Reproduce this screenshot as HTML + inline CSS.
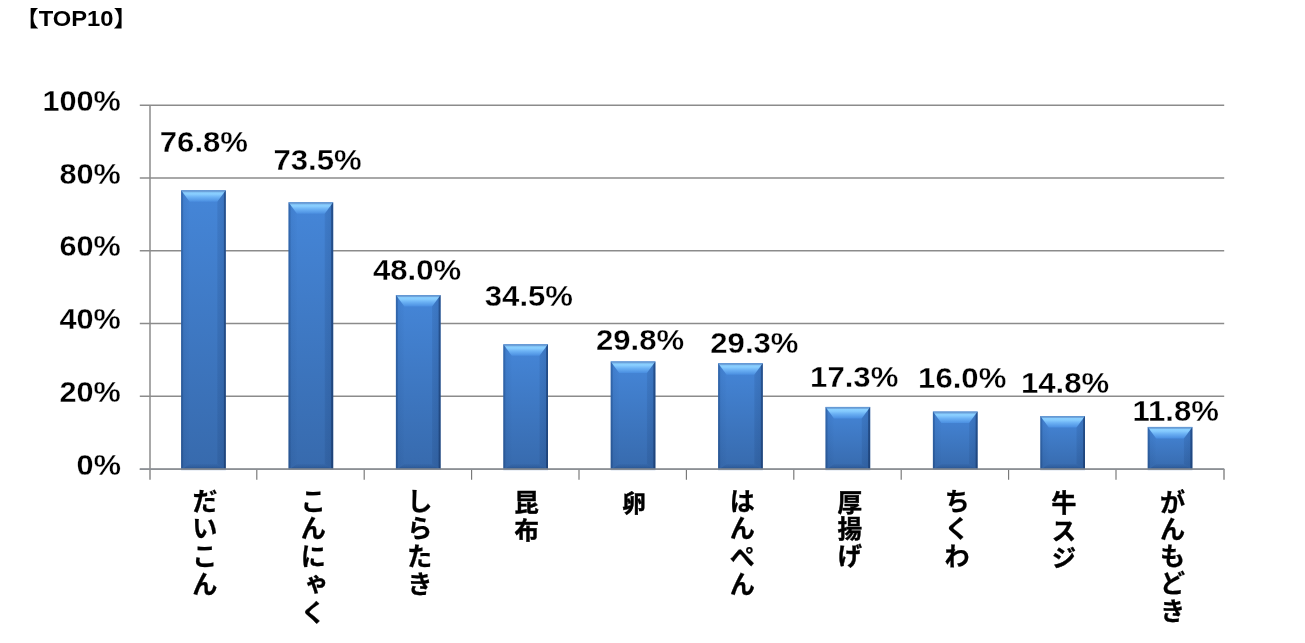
<!DOCTYPE html>
<html lang="ja">
<head>
<meta charset="utf-8">
<title>TOP10</title>
<style>
html,body{margin:0;padding:0;background:#fff;}
body{width:1305px;height:643px;position:relative;overflow:hidden;font-family:"Liberation Sans","Noto Sans CJK JP",sans-serif;}
svg{position:absolute;left:0;top:0;display:block;}
.num{font-family:"Liberation Sans","Noto Sans CJK JP",sans-serif;font-weight:bold;fill:#000;stroke:#fff;stroke-width:0.3px;}
.cat{position:absolute;top:0;writing-mode:vertical-rl;text-orientation:upright;font-family:"Liberation Sans","Noto Sans CJK JP",sans-serif;font-weight:bold;font-size:25.6px;line-height:27px;width:27px;color:#000;white-space:nowrap;letter-spacing:2.2px;-webkit-text-stroke:0.25px #000;}
</style>
</head>
<body>
<svg width="1305" height="643" viewBox="0 0 1305 643">
<defs>
<linearGradient id="bg" x1="0" y1="0" x2="0" y2="1"><stop offset="0" stop-color="#4586d8"/><stop offset="1" stop-color="#376aad"/></linearGradient>
<linearGradient id="tb" x1="0" y1="0" x2="0" y2="1"><stop offset="0" stop-color="#5f93cf"/><stop offset="0.13" stop-color="#6fa6de"/><stop offset="0.22" stop-color="#8ad0ff"/><stop offset="0.36" stop-color="#86cbfe"/><stop offset="0.6" stop-color="#6bb1f4"/><stop offset="1" stop-color="#4a8ee0"/></linearGradient>
<linearGradient id="lb" x1="0" y1="0" x2="1" y2="0"><stop offset="0" stop-color="#0a2a5a" stop-opacity="0.36"/><stop offset="0.18" stop-color="#0a2a5a" stop-opacity="0.28"/><stop offset="0.3" stop-color="#0a2a5a" stop-opacity="0.07"/><stop offset="1" stop-color="#0a2a5a" stop-opacity="0.01"/></linearGradient>
<linearGradient id="rb" x1="0" y1="0" x2="1" y2="0"><stop offset="0" stop-color="#0a2450" stop-opacity="0.10"/><stop offset="0.72" stop-color="#0a2450" stop-opacity="0.16"/><stop offset="0.8" stop-color="#0a2450" stop-opacity="0.50"/><stop offset="1" stop-color="#0a2450" stop-opacity="0.60"/></linearGradient>
<linearGradient id="bb" x1="0" y1="0" x2="0" y2="1"><stop offset="0" stop-color="#0a2450" stop-opacity="0.04"/><stop offset="0.55" stop-color="#0a2450" stop-opacity="0.18"/><stop offset="0.8" stop-color="#0a2450" stop-opacity="0.45"/><stop offset="1" stop-color="#0a2450" stop-opacity="0.65"/></linearGradient>
</defs>
<rect x="0" y="0" width="1305" height="643" fill="#ffffff"/>

<g stroke="#8b8b8b" stroke-width="1.5" fill="none">
<line x1="139.8" y1="105.15" x2="1224.2" y2="105.15"/>
<line x1="139.8" y1="177.95" x2="1224.2" y2="177.95"/>
<line x1="139.8" y1="250.75" x2="1224.2" y2="250.75"/>
<line x1="139.8" y1="323.55" x2="1224.2" y2="323.55"/>
<line x1="139.8" y1="396.35" x2="1224.2" y2="396.35"/>
<line x1="139.8" y1="469.15" x2="1224.2" y2="469.15"/>
<line x1="150.0" y1="105.2" x2="150.0" y2="479.8"/>
<line x1="1224.0" y1="469.1" x2="1224.0" y2="479.8"/>
</g>
<g stroke="#767676" stroke-width="1.15" fill="none">
<line x1="256.8" y1="469.1" x2="256.8" y2="479.8"/>
<line x1="364.2" y1="469.1" x2="364.2" y2="479.8"/>
<line x1="471.6" y1="469.1" x2="471.6" y2="479.8"/>
<line x1="579.0" y1="469.1" x2="579.0" y2="479.8"/>
<line x1="686.4" y1="469.1" x2="686.4" y2="479.8"/>
<line x1="793.8" y1="469.1" x2="793.8" y2="479.8"/>
<line x1="901.2" y1="469.1" x2="901.2" y2="479.8"/>
<line x1="1008.6" y1="469.1" x2="1008.6" y2="479.8"/>
<line x1="1116.0" y1="469.1" x2="1116.0" y2="479.8"/>
</g>
<g>
<rect x="181.1" y="190.3" width="44.7" height="279.8" fill="url(#bg)"/>
<polygon points="181.1,190.3 225.8,190.3 217.3,201.8 189.6,201.8" fill="url(#tb)"/>
<polygon points="181.1,190.3 189.6,201.8 189.6,464.0 181.1,470.0" fill="url(#lb)"/>
<polygon points="225.8,190.3 217.3,201.8 217.3,464.0 225.8,470.0" fill="url(#rb)"/>
<polygon points="181.1,470.0 189.6,464.0 217.3,464.0 225.8,470.0" fill="url(#bb)"/>
</g>
<g>
<rect x="288.5" y="202.3" width="44.7" height="267.7" fill="url(#bg)"/>
<polygon points="288.5,202.3 333.2,202.3 324.7,213.8 297.0,213.8" fill="url(#tb)"/>
<polygon points="288.5,202.3 297.0,213.8 297.0,464.0 288.5,470.0" fill="url(#lb)"/>
<polygon points="333.2,202.3 324.7,213.8 324.7,464.0 333.2,470.0" fill="url(#rb)"/>
<polygon points="288.5,470.0 297.0,464.0 324.7,464.0 333.2,470.0" fill="url(#bb)"/>
</g>
<g>
<rect x="395.9" y="295.1" width="44.7" height="174.9" fill="url(#bg)"/>
<polygon points="395.9,295.1 440.6,295.1 432.1,306.6 404.4,306.6" fill="url(#tb)"/>
<polygon points="395.9,295.1 404.4,306.6 404.4,464.0 395.9,470.0" fill="url(#lb)"/>
<polygon points="440.6,295.1 432.1,306.6 432.1,464.0 440.6,470.0" fill="url(#rb)"/>
<polygon points="395.9,470.0 404.4,464.0 432.1,464.0 440.6,470.0" fill="url(#bb)"/>
</g>
<g>
<rect x="503.3" y="344.3" width="44.7" height="125.8" fill="url(#bg)"/>
<polygon points="503.3,344.3 548.0,344.3 539.5,355.8 511.8,355.8" fill="url(#tb)"/>
<polygon points="503.3,344.3 511.8,355.8 511.8,464.0 503.3,470.0" fill="url(#lb)"/>
<polygon points="548.0,344.3 539.5,355.8 539.5,464.0 548.0,470.0" fill="url(#rb)"/>
<polygon points="503.3,470.0 511.8,464.0 539.5,464.0 548.0,470.0" fill="url(#bb)"/>
</g>
<g>
<rect x="610.7" y="361.4" width="44.7" height="108.7" fill="url(#bg)"/>
<polygon points="610.7,361.4 655.4,361.4 646.9,372.9 619.2,372.9" fill="url(#tb)"/>
<polygon points="610.7,361.4 619.2,372.9 619.2,464.0 610.7,470.0" fill="url(#lb)"/>
<polygon points="655.4,361.4 646.9,372.9 646.9,464.0 655.4,470.0" fill="url(#rb)"/>
<polygon points="610.7,470.0 619.2,464.0 646.9,464.0 655.4,470.0" fill="url(#bb)"/>
</g>
<g>
<rect x="718.1" y="363.2" width="44.7" height="106.9" fill="url(#bg)"/>
<polygon points="718.1,363.2 762.8,363.2 754.3,374.7 726.6,374.7" fill="url(#tb)"/>
<polygon points="718.1,363.2 726.6,374.7 726.6,464.0 718.1,470.0" fill="url(#lb)"/>
<polygon points="762.8,363.2 754.3,374.7 754.3,464.0 762.8,470.0" fill="url(#rb)"/>
<polygon points="718.1,470.0 726.6,464.0 754.3,464.0 762.8,470.0" fill="url(#bb)"/>
</g>
<g>
<rect x="825.5" y="406.9" width="44.7" height="63.2" fill="url(#bg)"/>
<polygon points="825.5,406.9 870.2,406.9 861.7,418.4 834.0,418.4" fill="url(#tb)"/>
<polygon points="825.5,406.9 834.0,418.4 834.0,464.0 825.5,470.0" fill="url(#lb)"/>
<polygon points="870.2,406.9 861.7,418.4 861.7,464.0 870.2,470.0" fill="url(#rb)"/>
<polygon points="825.5,470.0 834.0,464.0 861.7,464.0 870.2,470.0" fill="url(#bb)"/>
</g>
<g>
<rect x="932.9" y="411.6" width="44.7" height="58.4" fill="url(#bg)"/>
<polygon points="932.9,411.6 977.6,411.6 969.1,423.1 941.4,423.1" fill="url(#tb)"/>
<polygon points="932.9,411.6 941.4,423.1 941.4,464.0 932.9,470.0" fill="url(#lb)"/>
<polygon points="977.6,411.6 969.1,423.1 969.1,464.0 977.6,470.0" fill="url(#rb)"/>
<polygon points="932.9,470.0 941.4,464.0 969.1,464.0 977.6,470.0" fill="url(#bb)"/>
</g>
<g>
<rect x="1040.3" y="416.0" width="44.7" height="54.1" fill="url(#bg)"/>
<polygon points="1040.3,416.0 1085.0,416.0 1076.5,427.5 1048.8,427.5" fill="url(#tb)"/>
<polygon points="1040.3,416.0 1048.8,427.5 1048.8,464.0 1040.3,470.0" fill="url(#lb)"/>
<polygon points="1085.0,416.0 1076.5,427.5 1076.5,464.0 1085.0,470.0" fill="url(#rb)"/>
<polygon points="1040.3,470.0 1048.8,464.0 1076.5,464.0 1085.0,470.0" fill="url(#bb)"/>
</g>
<g>
<rect x="1147.7" y="426.9" width="44.7" height="43.2" fill="url(#bg)"/>
<polygon points="1147.7,426.9 1192.4,426.9 1183.9,438.4 1156.2,438.4" fill="url(#tb)"/>
<polygon points="1147.7,426.9 1156.2,438.4 1156.2,464.0 1147.7,470.0" fill="url(#lb)"/>
<polygon points="1192.4,426.9 1183.9,438.4 1183.9,464.0 1192.4,470.0" fill="url(#rb)"/>
<polygon points="1147.7,470.0 1156.2,464.0 1183.9,464.0 1192.4,470.0" fill="url(#bb)"/>
</g>
<line x1="139.8" y1="469.15" x2="1224.2" y2="469.15" stroke="#8c9096" stroke-width="1.6" stroke-opacity="0.92"/>
<text class="num" font-size="21.6" style="stroke:none" transform="translate(15.0,25.8) scale(1.10,1)">【TOP10】</text>
<text class="num" text-anchor="end" font-size="28.8" transform="translate(120.9,110.8) scale(1.065,1)">100%</text>
<text class="num" text-anchor="end" font-size="28.8" transform="translate(120.9,183.5) scale(1.065,1)">80%</text>
<text class="num" text-anchor="end" font-size="28.8" transform="translate(120.9,256.4) scale(1.065,1)">60%</text>
<text class="num" text-anchor="end" font-size="28.8" transform="translate(120.9,329.2) scale(1.065,1)">40%</text>
<text class="num" text-anchor="end" font-size="28.8" transform="translate(120.9,402.0) scale(1.065,1)">20%</text>
<text class="num" text-anchor="end" font-size="28.8" transform="translate(120.9,474.8) scale(1.065,1)">0%</text>
<text class="num" text-anchor="middle" font-size="28.8" transform="translate(203.9,152.0) scale(1.080,1)">76.8%</text>
<text class="num" text-anchor="middle" font-size="28.8" transform="translate(317.5,169.7) scale(1.080,1)">73.5%</text>
<text class="num" text-anchor="middle" font-size="28.8" transform="translate(417.1,280.1) scale(1.080,1)">48.0%</text>
<text class="num" text-anchor="middle" font-size="28.8" transform="translate(528.9,306.2) scale(1.080,1)">34.5%</text>
<text class="num" text-anchor="middle" font-size="28.8" transform="translate(640.0,349.5) scale(1.080,1)">29.8%</text>
<text class="num" text-anchor="middle" font-size="28.8" transform="translate(754.4,353.2) scale(1.080,1)">29.3%</text>
<text class="num" text-anchor="middle" font-size="28.8" transform="translate(854.2,386.8) scale(1.080,1)">17.3%</text>
<text class="num" text-anchor="middle" font-size="28.8" transform="translate(962.2,388.3) scale(1.080,1)">16.0%</text>
<text class="num" text-anchor="middle" font-size="28.8" transform="translate(1065.1,393.2) scale(1.080,1)">14.8%</text>
<text class="num" text-anchor="middle" font-size="28.8" transform="translate(1175.7,420.8) scale(1.080,1)">11.8%</text>
</svg>
<div class="cat" style="left:188.2px;top:488.3px">だいこん</div>
<div class="cat" style="left:296.7px;top:488.3px">こんにゃく</div>
<div class="cat" style="left:403.2px;top:488.3px">しらたき</div>
<div class="cat" style="left:511.1px;top:489.5px;font-size:24.4px;letter-spacing:3.2px;-webkit-text-stroke-width:0.45px">昆布</div>
<div class="cat" style="left:618.0px;top:490.9px;font-size:23.6px;letter-spacing:3.2px;-webkit-text-stroke-width:0.45px">卵</div>
<div class="cat" style="left:725.8px;top:488.3px">はんぺん</div>
<div class="cat" style="left:833.7px;top:489.9px;font-size:24.6px;letter-spacing:2.2px;-webkit-text-stroke-width:0.45px">厚揚げ</div>
<div class="cat" style="left:940.6px;top:488.3px">ちくわ</div>
<div class="cat" style="left:1047.8px;top:490.1px;font-size:24.8px;letter-spacing:3.0px;-webkit-text-stroke-width:0.45px">牛スジ</div>
<div class="cat" style="left:1156.1px;top:489.2px;font-size:25.6px;letter-spacing:1.7px">がんもどき</div>
</body>
</html>
